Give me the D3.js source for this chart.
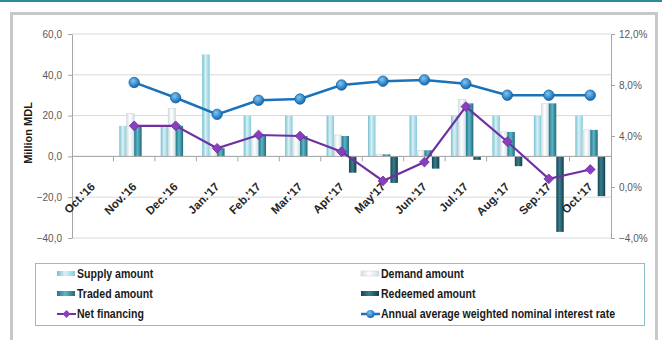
<!DOCTYPE html>
<html>
<head>
<meta charset="utf-8">
<script src="https://cdn.jsdelivr.net/npm/d3@7"></script>
<style>
    body { margin: 0; background: #fff; }
    .axis text { font-family: "Liberation Sans", Arial, sans-serif; font-size: 10px; fill: #595959; }
    .axis path, .axis line { stroke: #a6a6a6; }
    .cat-label { font-family: "Liberation Sans", Arial, sans-serif; font-size: 11.5px; font-weight: bold; fill: #262626; }
    .legend text { font-family: "Liberation Sans", Arial, sans-serif; font-size: 12px; font-weight: bold; fill: #1a1a1a; }
</style>
</head>
<body>
<div id="chart"></div>
<script>

// categories
const months = ["Oct.'16", "Nov.'16", "Dec.'16", "Jan.'17", "Feb.'17", "Mar.'17", "Apr.'17",
    "May'17", "Jun.'17", "Jul.'17", "Aug.'17", "Sep.'17", "Oct.'17"];

// million MDL (left axis)
const supply   = [null, 15, 15, 50, 20, 20, 20, 20, 20, 20, 20, 20, 20];
const demand   = [null, 21, 23.5, 4.5, 10, 10, 10.5, 1, 3, 28, 12, 25.8, 13];
const traded   = [null, 15, 15, 4, 10, 10, 10, 1, 3, 26, 12, 26, 13];
const redeemed = [null, 0, 0, 0, 0, 0, -8, -13, -6, -1.7, -4.8, -37, -19.5];
const netFinancing = [null, 15, 15, 4, 10.5, 10, 2.3, -12, -2.8, 24.4, 7.2, -11, -6.4];

// % (right axis)
const interestRate = [null, 8.2, 7.0, 5.7, 6.8, 6.9, 8.0, 8.3, 8.4, 8.1, 7.2, 7.2, 7.2];

const leftTicks = [-40, -20, 0, 20, 40, 60];
const rightTicks = [-4, 0, 4, 8, 12];

const barSeries = [
    { key: "supply", name: "Supply amount", values: supply },
    { key: "demand", name: "Demand amount", values: demand },
    { key: "traded", name: "Traded amount", values: traded },
    { key: "redeemed", name: "Redeemed amount", values: redeemed }
];

class ComboChart {

    constructor(_parentElement) {
        this.parentElement = _parentElement;
        this.initVis();
    }

    initVis() {
        var vis = this;

        vis.W = 662;
        vis.H = 340;
        vis.margin = { top: 34, right: 51, bottom: 102, left: 72 };
        vis.width = vis.W - vis.margin.left - vis.margin.right;
        vis.height = vis.H - vis.margin.top - vis.margin.bottom;

        vis.svg = d3.select("#" + vis.parentElement).append("svg")
            .attr("width", vis.W)
            .attr("height", vis.H);

        vis.makeGradients();

        // page decoration: teal top rule and grey frame
        vis.svg.append("rect").attr("x", 0).attr("y", 0).attr("width", vis.W).attr("height", 2).attr("fill", "#2b8a9d");
        vis.svg.append("rect")
            .attr("x", 11.5).attr("y", 13.5).attr("width", 645).attr("height", 340)
            .attr("fill", "none").attr("stroke", "#c8c8c8").attr("stroke-width", 3);

        vis.g = vis.svg.append("g")
            .attr("transform", "translate(" + vis.margin.left + "," + vis.margin.top + ")");

        // scales
        vis.x = d3.scaleBand().domain(months).range([0, vis.width]).padding(0);
        vis.xInner = d3.scaleBand().domain(barSeries.map(d => d.key))
            .range([-vis.x.bandwidth() * 0.36, vis.x.bandwidth() * 0.36]);
        vis.yL = d3.scaleLinear().domain([-40, 60]).range([vis.height, 0]);
        vis.yR = d3.scaleLinear().domain([-4, 12]).range([vis.height, 0]);

        vis.wrangleData();
    }

    makeGradients() {
        var vis = this;
        let defs = vis.svg.append("defs");
        let grads = {
            supply: ["#74bfd0", "#d8f1f6", "#86cada"],
            demand: ["#d4e0e4", "#ffffff", "#d0dde1"],
            traded: ["#22768a", "#5db5c6", "#1f6b7c"],
            redeemed: ["#13475a", "#3c7c8a", "#123f4c"]
        };
        Object.keys(grads).forEach(k => {
            let lg = defs.append("linearGradient").attr("id", "g-" + k)
                .attr("x1", "0%").attr("x2", "100%").attr("y1", "0%").attr("y2", "0%");
            lg.append("stop").attr("offset", "0%").attr("stop-color", grads[k][0]);
            lg.append("stop").attr("offset", "45%").attr("stop-color", grads[k][1]);
            lg.append("stop").attr("offset", "100%").attr("stop-color", grads[k][2]);
        });
        let rg = defs.append("radialGradient").attr("id", "g-dot")
            .attr("cx", "40%").attr("cy", "35%").attr("r", "65%");
        rg.append("stop").attr("offset", "0%").attr("stop-color", "#7cc6f2");
        rg.append("stop").attr("offset", "100%").attr("stop-color", "#1568b0");
    }

    wrangleData() {
        var vis = this;
        vis.barData = [];
        months.forEach((m, i) => {
            barSeries.forEach(s => {
                if (s.values[i] !== null && s.values[i] !== 0) {
                    vis.barData.push({ month: m, key: s.key, value: s.values[i] });
                }
            });
        });
        vis.netData = months.map((m, i) => ({ month: m, value: netFinancing[i] })).filter(d => d.value !== null);
        vis.rateData = months.map((m, i) => ({ month: m, value: interestRate[i] })).filter(d => d.value !== null);

        vis.updateVis();
    }

    updateVis() {
        var vis = this;
        let cx = d => vis.x(d.month) + vis.x.bandwidth() / 2;
        let fmt = d3.format(".1f");

        // gridlines
        vis.g.append("g")
            .selectAll("line").data(leftTicks).enter().append("line")
            .attr("x1", 0).attr("x2", vis.width)
            .attr("y1", d => vis.yL(d)).attr("y2", d => vis.yL(d))
            .attr("stroke", "#d9d9d9").attr("stroke-width", 1);

        // left axis
        vis.g.append("g").attr("class", "axis")
            .call(d3.axisLeft(vis.yL).tickValues(leftTicks).tickSize(4).tickSizeOuter(0).tickPadding(6)
                .tickFormat(d => fmt(d).replace(".", ",")));

        // right axis
        vis.g.append("g").attr("class", "axis")
            .attr("transform", "translate(" + vis.width + ",0)")
            .call(d3.axisRight(vis.yR).tickValues(rightTicks).tickSize(4).tickSizeOuter(0).tickPadding(4)
                .tickFormat(d => fmt(d).replace(".", ",") + "%"));

        // bars
        vis.g.selectAll(".bar").data(vis.barData).enter().append("rect")
            .attr("class", "bar")
            .attr("x", d => cx(d) + vis.xInner(d.key))
            .attr("width", vis.xInner.bandwidth())
            .attr("y", d => vis.yL(Math.max(0, d.value)))
            .attr("height", d => Math.abs(vis.yL(d.value) - vis.yL(0)))
            .attr("fill", d => "url(#g-" + d.key + ")")
            .attr("stroke", d => d.key === "demand" ? "#c9d7db" : "none")
            .attr("stroke-width", 0.6);

        // category axis on the zero line
        let cat = vis.g.append("g").attr("transform", "translate(0," + vis.yL(0) + ")");
        cat.append("line").attr("x1", 0).attr("x2", vis.width).attr("stroke", "#a6a6a6");
        cat.selectAll(".tk").data(months.slice(1)).enter().append("line")
            .attr("x1", d => vis.x(d)).attr("x2", d => vis.x(d))
            .attr("y1", 0).attr("y2", 5).attr("stroke", "#a6a6a6");
        vis.g.selectAll(".cat-label").data(months).enter().append("text")
            .attr("class", "cat-label")
            .attr("text-anchor", "end")
            .attr("transform", d => "translate(" + (vis.x(d) + vis.x.bandwidth() / 2 + 3) + "," + (vis.yL(0) + 31) + ") rotate(-45)")
            .text(d => d);

        // net financing line
        let netLine = d3.line().x(cx).y(d => vis.yL(d.value));
        vis.g.append("path").datum(vis.netData)
            .attr("d", netLine).attr("fill", "none")
            .attr("stroke", "#7030a0").attr("stroke-width", 2.2);
        vis.g.selectAll(".net-dot").data(vis.netData).enter().append("path")
            .attr("class", "net-dot")
            .attr("d", d3.symbol(d3.symbolDiamond2, 60))
            .attr("transform", d => "translate(" + cx(d) + "," + vis.yL(d.value) + ")")
            .attr("fill", "#8a3fc0").attr("stroke", "#6a2a98").attr("stroke-width", 0.8);

        // interest rate line
        let rateLine = d3.line().x(cx).y(d => vis.yR(d.value));
        vis.g.append("path").datum(vis.rateData)
            .attr("d", rateLine).attr("fill", "none")
            .attr("stroke", "#1a72bb").attr("stroke-width", 2.5);
        vis.g.selectAll(".rate-dot").data(vis.rateData).enter().append("circle")
            .attr("class", "rate-dot")
            .attr("cx", cx).attr("cy", d => vis.yR(d.value)).attr("r", 5.2)
            .attr("fill", "url(#g-dot)").attr("stroke", "#1465a8").attr("stroke-width", 0.8);

        // axis title
        vis.svg.append("text")
            .attr("transform", "translate(32,133) rotate(-90)")
            .attr("text-anchor", "middle")
            .style("font-family", "Liberation Sans, Arial, sans-serif")
            .style("font-size", "11px").style("font-weight", "bold").style("fill", "#1a1a1a")
            .text("Million MDL");

        vis.drawLegend();
    }

    drawLegend() {
        var vis = this;
        let lg = vis.svg.append("g").attr("class", "legend");
        lg.append("rect").attr("x", 35.5).attr("y", 263.5).attr("width", 609).attr("height", 62)
            .attr("fill", "#fff").attr("stroke", "#8cc0c9").attr("stroke-width", 1);

        let items = barSeries.map(s => ({ name: s.name, type: "bar", key: s.key }))
            .concat([{ name: "Net financing", type: "net" },
                     { name: "Annual average weighted nominal interest rate", type: "rate" }]);
        let colX = [57, 361];
        let rowY = [274, 294, 314];

        items.forEach((it, i) => {
            let gx = colX[i % 2], gy = rowY[Math.floor(i / 2)];
            let g = lg.append("g").attr("transform", "translate(" + gx + "," + gy + ")");
            if (it.type === "bar") {
                g.append("rect").attr("x", 0).attr("y", -3).attr("width", 18).attr("height", 5)
                    .attr("fill", "url(#g-" + it.key + ")")
                    .attr("stroke", it.key === "demand" ? "#c9d7db" : "none").attr("stroke-width", 0.6);
            } else if (it.type === "net") {
                g.append("line").attr("x1", 0).attr("x2", 19).attr("stroke", "#7030a0").attr("stroke-width", 2);
                g.append("path").attr("d", d3.symbol(d3.symbolDiamond2, 40))
                    .attr("transform", "translate(9.5,0)").attr("fill", "#8a3fc0");
            } else {
                g.append("line").attr("x1", 0).attr("x2", 19).attr("stroke", "#1a72bb").attr("stroke-width", 2.5);
                g.append("circle").attr("cx", 9.5).attr("r", 4).attr("fill", "url(#g-dot)");
            }
            // condensed look of the original legend font
            g.append("text").attr("transform", "translate(20,0) scale(0.88,1)")
                .attr("dy", "0.35em").text(it.name);
        });
    }
}

new ComboChart("chart");
</script>
</body>
</html>
